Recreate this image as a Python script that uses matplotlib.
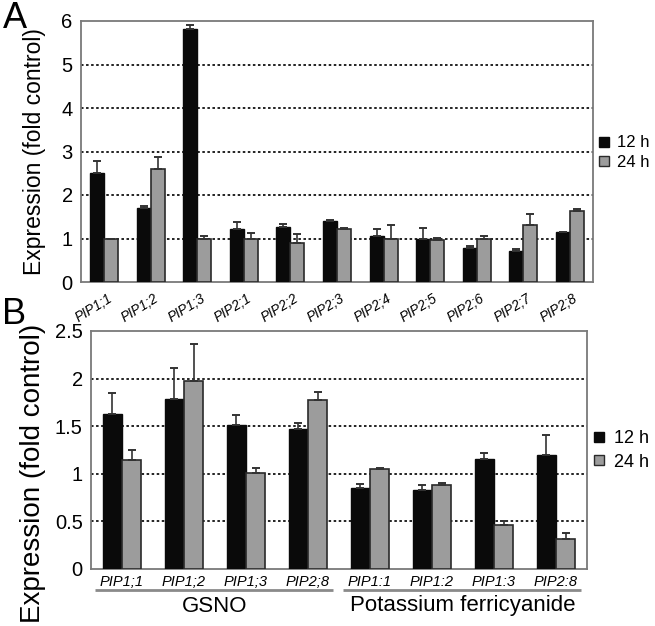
import matplotlib
matplotlib.use("Agg")
import matplotlib.pyplot as plt
from matplotlib.lines import Line2D
import numpy as np

plt.rcParams['font.family'] = ['Liberation Sans', 'DejaVu Sans']

# ---------------- data ----------------
genes_a = ["PIP1;1", "PIP1;2", "PIP1;3", "PIP2;1", "PIP2;2", "PIP2;3",
           "PIP2;4", "PIP2;5", "PIP2;6", "PIP2;7", "PIP2;8"]
a_12h = [2.51, 1.71, 5.82, 1.22, 1.27, 1.40, 1.05, 1.00, 0.78, 0.72, 1.14]
a_12h_err = [0.28, 0.04, 0.08, 0.16, 0.06, 0.02, 0.16, 0.24, 0.04, 0.03, 0.01]
a_24h = [0.99, 2.60, 0.99, 1.00, 0.90, 1.21, 1.00, 0.97, 0.99, 1.32, 1.64]
a_24h_err = [0.01, 0.27, 0.07, 0.12, 0.20, 0.04, 0.32, 0.05, 0.06, 0.24, 0.04]

genes_b = ["PIP1;1", "PIP1;2", "PIP1;3", "PIP2;8",
           "PIP1:1", "PIP1:2", "PIP1:3", "PIP2:8"]
b_12h = [1.63, 1.79, 1.51, 1.47, 0.85, 0.83, 1.16, 1.20]
b_12h_err = [0.22, 0.32, 0.11, 0.06, 0.04, 0.05, 0.06, 0.21]
b_24h = [1.14, 1.98, 1.01, 1.77, 1.05, 0.88, 0.46, 0.315]
b_24h_err = [0.105, 0.38, 0.05, 0.09, 0.015, 0.02, 0.04, 0.065]

treatments = ["GSNO", "Potassium ferricyanide"]
series_labels = ["12 h", "24 h"]
a_yticks = [0, 1, 2, 3, 4, 5, 6]
b_yticks = [0, 0.5, 1, 1.5, 2, 2.5]

BLACK = "#0a0a0a"
GREY = "#9c9c9c"
EDGE_G = "#2a2a2a"
SPINE = "#7a7a7a"

W, H = 655, 626
fig = plt.figure(figsize=(W / 100, H / 100), dpi=100)


def px_axes(l, t, r, b):
    return fig.add_axes([l / W, 1 - b / H, (r - l) / W, (b - t) / H])


def draw_bars(ax, v12, e12, v24, e24, width):
    x = np.arange(len(v12))
    ax.bar(x - width / 2, v12, width, color=BLACK, edgecolor=BLACK,
           linewidth=1.0, zorder=3)
    ax.bar(x + width / 2, v24, width, color=GREY, edgecolor=EDGE_G,
           linewidth=1.2, zorder=3)
    ax.errorbar(x - width / 2, v12, yerr=[np.zeros(len(v12)), e12], fmt='none',
                ecolor="#333333", elinewidth=1.2, capsize=3, capthick=1.4, zorder=4)
    ax.errorbar(x + width / 2, v24, yerr=[np.zeros(len(v24)), e24], fmt='none',
                ecolor="#333333", elinewidth=1.2, capsize=3, capthick=1.4, zorder=4)
    return x


def style(ax, yticks, fs):
    for s in ax.spines.values():
        s.set_color(SPINE)
        s.set_linewidth(1.3)
    ax.set_yticks(yticks)
    ax.set_yticklabels([f"{t:g}" for t in yticks], fontsize=fs)
    ax.tick_params(axis='y', length=0, pad=6)
    for t in yticks[1:-1]:
        ax.axhline(t, color="#222222", lw=1.4, ls=(0, (1.3, 1.3)), zorder=1)


# ---------------- Panel A ----------------
axA = px_axes(81, 21, 593, 282)
xa = draw_bars(axA, a_12h, a_12h_err, a_24h, a_24h_err, 0.3)
axA.set_xlim(-0.5, len(genes_a) - 0.5)
axA.set_ylim(0, 6)
style(axA, a_yticks, 14.5)
axA.set_xticks([])
for xi, g in zip(xa, genes_a):
    axA.text(xi + 0.14, -0.06, g, transform=axA.get_xaxis_transform(),
             rotation=32, rotation_mode='anchor', ha='right', va='center',
             fontsize=9.8, fontstyle='italic')
fig.text(35 / W, 1 - 152 / H, "Expression (fold control)", rotation=90,
         ha='center', va='center', fontsize=16.5)
fig.text(3 / W, 1 - 28 / H, "A", fontsize=26, ha='left', va='baseline')

handles = [Line2D([], [], marker='s', ls='none', markersize=6.5,
                  markerfacecolor=BLACK, markeredgecolor=BLACK),
           Line2D([], [], marker='s', ls='none', markersize=6.5,
                  markerfacecolor=GREY, markeredgecolor=EDGE_G)]
fig.legend(handles, series_labels, loc='center left',
           bbox_to_anchor=(598 / W, 1 - 152.5 / H), frameon=False,
           fontsize=12, handlelength=0.7, handletextpad=0.45,
           labelspacing=0.25, borderpad=0, borderaxespad=0)

# ---------------- Panel B ----------------
axB = px_axes(91, 331, 587, 569)
xb = draw_bars(axB, b_12h, b_12h_err, b_24h, b_24h_err, 0.31)
axB.set_xlim(-0.5, len(genes_b) - 0.5)
axB.set_ylim(0, 2.5)
style(axB, b_yticks, 14.5)
axB.set_xticks(xb)
axB.set_xticklabels(genes_b, fontsize=10.5, fontstyle='italic')
axB.tick_params(axis='x', length=0, pad=4)
fig.text(33 / W, 1 - 473 / H, "Expression (fold control)", rotation=90,
         ha='center', va='center', fontsize=20)
fig.text(2 / W, 1 - 324 / H, "B", fontsize=26, ha='left', va='baseline')

# treatment brackets
tr = axB.get_xaxis_transform()
line_y = -(590 - 569) / (569 - 331)
text_y = -(606 - 569) / (569 - 331)
groups = [(0, 3), (4, 7)]
for (g0, g1), name in zip(groups, treatments):
    axB.plot([g0 - 0.43, g1 + 0.4], [line_y, line_y], transform=tr,
             color="#8a8a8a", lw=2, clip_on=False, solid_capstyle='butt')
    axB.text((g0 + g1) / 2, text_y, name, transform=tr, ha='center',
             va='center', fontsize=16)

fig.legend(handles, series_labels, loc='center left',
           bbox_to_anchor=(593 / W, 1 - 450.5 / H), frameon=False,
           fontsize=13, handlelength=0.7, handletextpad=0.45,
           labelspacing=0.35, borderpad=0, borderaxespad=0)

fig.savefig("out.png", dpi=100)
